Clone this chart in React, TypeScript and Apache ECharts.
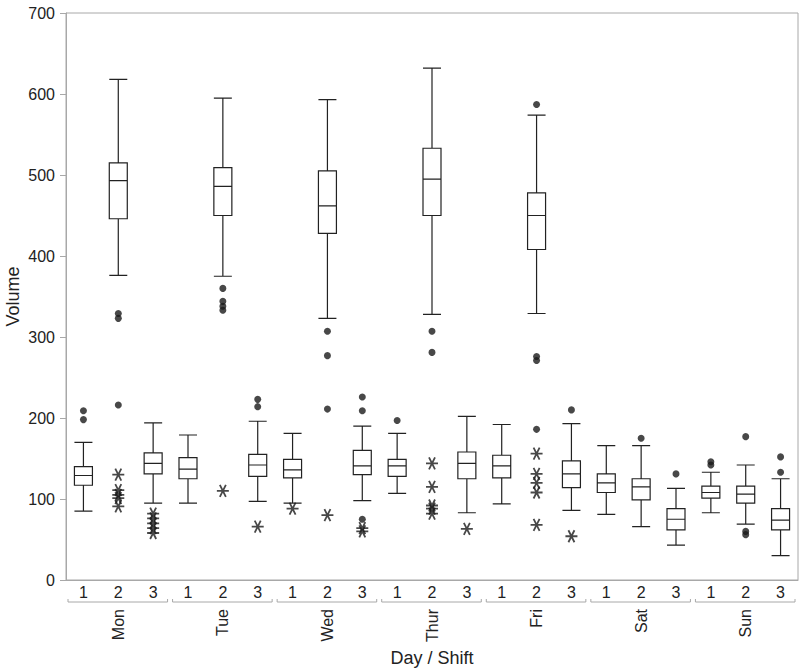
import React, { useEffect, useRef } from "react";
import * as echarts from "echarts";

const days = ["Mon", "Tue", "Wed", "Thur", "Fri", "Sat", "Sun"];
const shifts = ["1", "2", "3"];
const categories = days.flatMap((d) => shifts.map((s) => `${d}|${s}`));

// per-category five-number summaries (whisker low, Q1, median, Q3, whisker high)
const whiskerLow = [85, 376, 95, 95, 375, 97, 95, 323, 98, 107, 328, 83, 94, 329, 86, 81, 66, 43, 83, 69, 30];
const q1 = [117, 446, 131, 125, 450, 128, 126, 428, 130, 128, 450, 125, 126, 408, 114, 108, 99, 62, 101, 95, 62];
const medians = [129, 493, 144, 137, 486, 142, 136, 462, 141, 141, 495, 144, 141, 450, 131, 120, 115, 75, 108, 106, 74];
const q3 = [140, 515, 157, 151, 509, 155, 149, 505, 160, 149, 533, 158, 154, 478, 147, 131, 125, 88, 116, 116, 88];
const whiskerHigh = [170, 618, 194, 179, 595, 196, 181, 593, 190, 181, 632, 202, 192, 574, 193, 166, 166, 113, 133, 142, 125];

// outliers: [category index, value]
const dotOutliers: [number, number][] = [
  [0, 209], [0, 198],
  [1, 329], [1, 323], [1, 216],
  [4, 360], [4, 344], [4, 338], [4, 333],
  [5, 223], [5, 214],
  [7, 307], [7, 277], [7, 211],
  [8, 226], [8, 209], [8, 75],
  [9, 197],
  [10, 307], [10, 281],
  [13, 587], [13, 276], [13, 271], [13, 186],
  [14, 210],
  [16, 175],
  [17, 131],
  [18, 146], [18, 142],
  [19, 177], [19, 60], [19, 56],
  [20, 152], [20, 133],
];
const starOutliers: [number, number][] = [
  [1, 130], [1, 111], [1, 105], [1, 101], [1, 91],
  [2, 82], [2, 76], [2, 70], [2, 64], [2, 58],
  [4, 110],
  [5, 66],
  [6, 88],
  [7, 80],
  [8, 64], [8, 60],
  [10, 144], [10, 115], [10, 92], [10, 88], [10, 82],
  [11, 63],
  [13, 156], [13, 131], [13, 120], [13, 108], [13, 68],
  [14, 54],
];

const yTicks = { min: 0, max: 700, interval: 100 };

const FONT = "Liberation Sans, Arial, sans-serif";
const TEXT = "#222";
const AXIS = "#a8a8a8";

export default function App() {
  const ref = useRef<HTMLDivElement>(null);
  useEffect(() => {
    if (!ref.current) return;
    const chart = echarts.init(ref.current, null, { renderer: "svg" });
    const boxData = categories.map((_, i) => [whiskerLow[i], q1[i], medians[i], q3[i], whiskerHigh[i]]);
    chart.setOption({
      animation: false,
      backgroundColor: "#fff",
      textStyle: { fontFamily: FONT },
      grid: {
        left: 66,
        top: 13,
        width: 732,
        height: 567,
        containLabel: false,
        outerBoundsMode: "none",
        show: true,
        borderColor: AXIS,
        borderWidth: 1,
        backgroundColor: "transparent",
      },
      xAxis: [
        {
          type: "category",
          data: categories,
          boundaryGap: true,
          axisLine: { show: true, lineStyle: { color: AXIS } },
          axisTick: { show: false },
          axisLabel: {
            interval: 0,
            margin: 4,
            fontSize: 16,
            color: TEXT,
            fontFamily: FONT,
            formatter: (v: string) => v.split("|")[1],
          },
          name: "Day / Shift",
          nameLocation: "middle",
          nameGap: 69,
          nameMoveOverlap: false,
          nameTextStyle: { fontSize: 18, color: TEXT, fontFamily: FONT },
        },
        {
          type: "category",
          data: days,
          position: "bottom",
          offset: 25,
          boundaryGap: true,
          axisLine: { show: false },
          axisTick: { show: false },
          axisLabel: { interval: 0, rotate: 90, margin: 4, fontSize: 16, color: TEXT, fontFamily: FONT },
        },
      ],
      yAxis: {
        type: "value",
        min: yTicks.min,
        max: yTicks.max,
        interval: yTicks.interval,
        axisLine: { show: true, lineStyle: { color: AXIS } },
        axisTick: { show: true, length: 6, lineStyle: { color: AXIS } },
        axisLabel: { fontSize: 16, color: TEXT, margin: 11, fontFamily: FONT },
        splitLine: { show: false },
        name: "Volume",
        nameLocation: "middle",
        nameGap: 44,
        nameMoveOverlap: false,
        nameTextStyle: { fontSize: 18, color: TEXT, fontFamily: FONT },
      },
      series: [
        {
          type: "boxplot",
          xAxisIndex: 0,
          data: boxData,
          boxWidth: [18, 18],
          itemStyle: { color: "#fff", borderColor: "#222", borderWidth: 1.2 },
        },
        {
          type: "scatter",
          xAxisIndex: 0,
          data: dotOutliers,
          symbol: "circle",
          symbolSize: 7,
          itemStyle: { color: "#1a1a1a" },
        },
        {
          type: "scatter",
          xAxisIndex: 0,
          data: starOutliers,
          symbol: "path://M0,5L10,5M2.5,0.67L7.5,9.33M7.5,0.67L2.5,9.33",
          symbolSize: [12, 12],
          itemStyle: { color: "none", borderColor: "#1a1a1a", borderWidth: 1.8 },
        },
      ],
    });

    // group brackets under the shift labels
    const zeroY = chart.convertToPixel({ yAxisIndex: 0 }, 0) as number;
    const x0 = chart.convertToPixel({ xAxisIndex: 0 }, 0) as number;
    const x1 = chart.convertToPixel({ xAxisIndex: 0 }, 1) as number;
    const band = x1 - x0;
    const by = zeroY + 22;
    const brackets = days.map((_, g) => {
      const a = (chart.convertToPixel({ xAxisIndex: 0 }, g * 3) as number) - band / 2 + 2;
      const b = (chart.convertToPixel({ xAxisIndex: 0 }, g * 3 + 2) as number) + band / 2 - 3;
      return {
        type: "polyline",
        shape: { points: [[a, by - 3], [a, by], [b, by], [b, by - 3]] },
        style: { stroke: AXIS, lineWidth: 1, fill: "none" },
        silent: true,
      };
    });
    chart.setOption({ graphic: brackets });

    return () => chart.dispose();
  }, []);
  return <div ref={ref} style={{ position: "absolute", left: 0, top: 0, width: 800, height: 672 }} />;
}
